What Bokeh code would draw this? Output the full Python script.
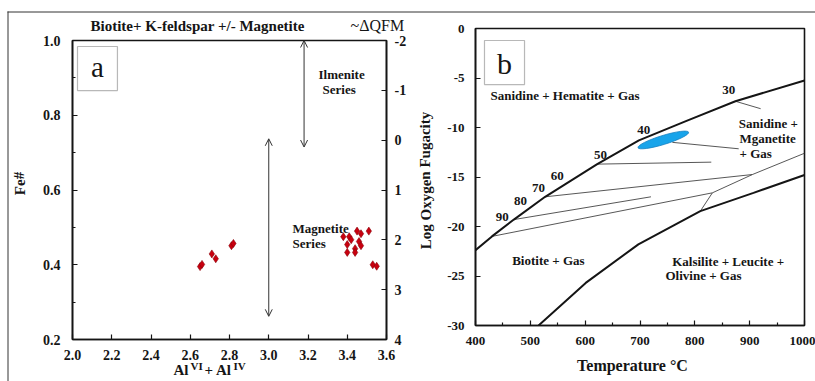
from bokeh.plotting import figure
from bokeh.layouts import column
from bokeh.models import (Range1d, LinearAxis, FixedTicker, PrintfTickFormatter,
                          Label, Arrow, OpenHead, BoxAnnotation, GridBox)
from bokeh.embed import file_html
from bokeh.resources import INLINE

# ---------------- Panel a data ----------------
al_total = [2.65, 2.66, 2.71, 2.73, 2.81, 2.82,
            3.38, 3.41, 3.42, 3.40, 3.40, 3.44, 3.44, 3.45, 3.47, 3.46, 3.47, 3.51, 3.53, 3.55]
fe_number = [0.395, 0.401, 0.429, 0.416, 0.451, 0.457,
             0.475, 0.475, 0.467, 0.454, 0.433, 0.443, 0.433, 0.490, 0.483, 0.462, 0.451, 0.490, 0.400, 0.396]
a_xticks = [2.0, 2.2, 2.4, 2.6, 2.8, 3.0, 3.2, 3.4, 3.6]
a_yticks = [0.2, 0.4, 0.6, 0.8, 1.0]
a_yminor = [0.3, 0.5, 0.7, 0.9]
qfm_ticks = [-2, -1, 0, 1, 2, 3, 4]
ilmenite_x = 3.18
ilmenite_fe = [0.715, 1.0]
magnetite_x = 3.0
magnetite_fe = [0.262, 0.737]

# ---------------- Panel b data ----------------
hem_mag_T = [400, 430, 470, 527, 622, 698, 786, 874, 1000]
hem_mag_logfo2 = [-22.4, -21.0, -19.3, -17.0, -13.7, -11.3, -9.3, -7.35, -5.25]
mag_kal_T = [515, 601, 697, 810, 907, 1000]
mag_kal_logfo2 = [-30.0, -25.7, -21.8, -18.45, -16.6, -14.8]
iso_T = [[874, 920], [759, 880], [622, 830], [527, 905], [470, 720], [430, 832],
         [810, 832, 905, 1000]]
iso_logfo2 = [[-7.35, -8.1], [-11.5, -12.15], [-13.7, -13.5], [-17.0, -14.75], [-19.3, -17.0],
              [-21.0, -16.6], [-18.45, -16.6, -14.75, -12.6]]
iso_names = ["30", "40", "50", "60", "70", "80", "90"]
iso_name_T = [862, 707, 628, 549, 515, 482, 449]
iso_name_logfo2 = [-6.26, -10.23, -12.76, -14.92, -16.09, -17.44, -18.99]
sample_T = [742.5]
sample_logfo2 = [-11.26]
b_xticks = [400, 500, 600, 700, 800, 900, 1000]
b_xminor = [450, 550, 650, 750, 850, 950]
b_yticks = [0, -5, -10, -15, -20, -25, -30]

SERIF = "Liberation Serif"
INK = "#151515"


def style_axis(ax, fs, fmt):
    ax.axis_line_width = 1.6
    ax.axis_line_color = INK
    ax.major_tick_in = 5
    ax.major_tick_out = 0
    ax.minor_tick_in = 3
    ax.minor_tick_out = 0
    ax.major_tick_line_width = 1.2
    ax.minor_tick_line_width = 1.2
    ax.major_tick_line_color = INK
    ax.minor_tick_line_color = INK
    ax.major_label_text_font = SERIF
    ax.major_label_text_font_style = "bold"
    ax.major_label_text_font_size = fs
    ax.major_label_text_color = INK
    ax.formatter = PrintfTickFormatter(format=fmt)


def lab(p, x, y, text, size, style="bold", align="left", angle=0.0, baseline="middle"):
    p.add_layout(Label(x=x, y=y, text=text, text_font=SERIF, text_font_size=size,
                       text_font_style=style, text_align=align, text_baseline=baseline,
                       text_color=INK, angle=angle))


def rule(p, x0, y0, x1, y1, w=1.0, c="#333333"):
    p.add_layout(Arrow(start=None, end=None, x_start=x0, y_start=y0, x_end=x1, y_end=y1,
                       line_width=w, line_color=c))


# ================= Panel a =================
pa = figure(width=410, height=381, x_range=Range1d(2.0, 3.6), y_range=Range1d(0.2, 1.0),
            output_backend="svg", toolbar_location=None,
            min_border_left=72, min_border_right=24, min_border_top=40, min_border_bottom=42)
pa.grid.visible = False
pa.outline_line_color = INK
pa.outline_line_width = 1.6
pa.xaxis.ticker = FixedTicker(ticks=a_xticks)
pa.yaxis.ticker = FixedTicker(ticks=a_yticks, minor_ticks=a_yminor)
style_axis(pa.xaxis[0], "14px", "%.1f")
style_axis(pa.yaxis[0], "14px", "%.1f")
pa.xaxis.major_label_standoff = 10
pa.yaxis.major_label_standoff = 12

pa.extra_y_ranges = {"qfm": Range1d(start=4, end=-2)}
qfm_axis = LinearAxis(y_range_name="qfm", ticker=FixedTicker(ticks=qfm_ticks))
style_axis(qfm_axis, "14px", "%d")
qfm_axis.major_label_standoff = 8
pa.add_layout(qfm_axis, "right")

pa.scatter(al_total, fe_number, marker="diamond", size=8, fill_color="#c8000f",
           line_color="#8a0008", line_width=0.6)

for xx, rng in ((ilmenite_x, ilmenite_fe), (magnetite_x, magnetite_fe)):
    pa.add_layout(Arrow(start=OpenHead(size=7, line_width=1, line_color="#333333"),
                        end=OpenHead(size=7, line_width=1, line_color="#333333"),
                        x_start=xx, y_start=rng[0], x_end=xx, y_end=rng[1],
                        line_width=1, line_color="#333333"))

lab(pa, 3.2535, 0.909, "Ilmenite", "13px")
lab(pa, 3.274, 0.869, "Series", "13px")
lab(pa, 3.121, 0.497, "Magnetite", "13px")
lab(pa, 3.121, 0.457, "Series", "13px")

pa.add_layout(BoxAnnotation(left=2.0255, right=2.229, top=0.984, bottom=0.866,
                            fill_alpha=0, line_color=INK, line_width=1.2))
lab(pa, 2.127, 0.928, "a", "29px", style="normal", align="center")

# ================= Panel b =================
pb = figure(width=405, height=381, x_range=Range1d(400, 1000), y_range=Range1d(-30, 0),
            output_backend="svg", toolbar_location=None,
            min_border_left=65, min_border_right=11, min_border_top=28, min_border_bottom=56)
pb.grid.visible = False
pb.outline_line_color = INK
pb.outline_line_width = 1.6
pb.xaxis.ticker = FixedTicker(ticks=b_xticks, minor_ticks=b_xminor)
pb.yaxis.ticker = FixedTicker(ticks=b_yticks)
style_axis(pb.xaxis[0], "13px", "%d")
style_axis(pb.yaxis[0], "13px", "%d")
pb.xaxis.major_label_standoff = 11
pb.yaxis.major_label_standoff = 11

pb.multi_line(iso_T, iso_logfo2, line_color="#444444", line_width=0.9)
pb.line(hem_mag_T, hem_mag_logfo2, line_color=INK, line_width=2.0)
pb.line(mag_kal_T, mag_kal_logfo2, line_color=INK, line_width=2.0)
pb.ellipse(x=sample_T, y=sample_logfo2, width=53, height=9, angle=0.297,
           width_units="screen", height_units="screen",
           fill_color="#18a4ea", line_color="#1780c0", line_width=0.8)

for nm, tx, ty in zip(iso_names, iso_name_T, iso_name_logfo2):
    lab(pb, tx, ty, nm, "13px", align="center")

lab(pb, 427.4, -6.77, "Sanidine + Hematite + Gas", "13px")
lab(pb, 880.2, -9.63, "Sanidine +", "13px")
lab(pb, 881.5, -11.14, "Mganetite", "13px")
lab(pb, 881.5, -12.66, "+ Gas", "13px")
lab(pb, 466.9, -23.43, "Biotite + Gas", "13px")
lab(pb, 758.7, -23.5, "Kalsilite + Leucite +", "13px")
lab(pb, 746.5, -24.95, "Olivine + Gas", "13px")

pb.add_layout(BoxAnnotation(left=416.4, right=489.4, top=-1.21, bottom=-5.66,
                            fill_alpha=0, line_color=INK, line_width=1.2))
lab(pb, 452.9, -3.5, "b", "30px", style="normal", align="center")

# ================= Overlay for titles / axis titles (page pixel space) =================
ov = figure(width=815, height=381, x_range=Range1d(0, 815), y_range=Range1d(381, 0),
            x_axis_type=None, y_axis_type=None, min_border=0,
            output_backend="svg", toolbar_location=None)
ov.grid.visible = False
ov.outline_line_color = None
ov.background_fill_alpha = 0
ov.border_fill_alpha = 0

lab(ov, 90, 25, "Biotite+ K-feldspar +/- Magnetite", "15px")
lab(ov, 350, 25, "~\u0394QFM", "16px", style="normal")
lab(ov, 19, 183, "Fe#", "15px", align="center", angle=1.5708)
lab(ov, 173, 369, "Al", "15px")
lab(ov, 190, 365, "VI", "11px")
lab(ov, 204, 369, "+ Al", "15px")
lab(ov, 233, 365, "IV", "11px")
lab(ov, 425, 180, "Log Oxygen Fugacity", "15px", align="center", angle=1.5708)
lab(ov, 632, 365, "Temperature \u00b0C", "16px", align="center")
rule(ov, 7.5, 11, 7.5, 381, 1.0)
rule(ov, 7, 11.5, 815, 11.5, 1.0)

layout = GridBox(children=[(column(pa), 0, 0), (column(pb), 0, 1), (column(ov), 0, 0, 1, 2)])
open("out.html", "w").write(file_html(layout, INLINE))
